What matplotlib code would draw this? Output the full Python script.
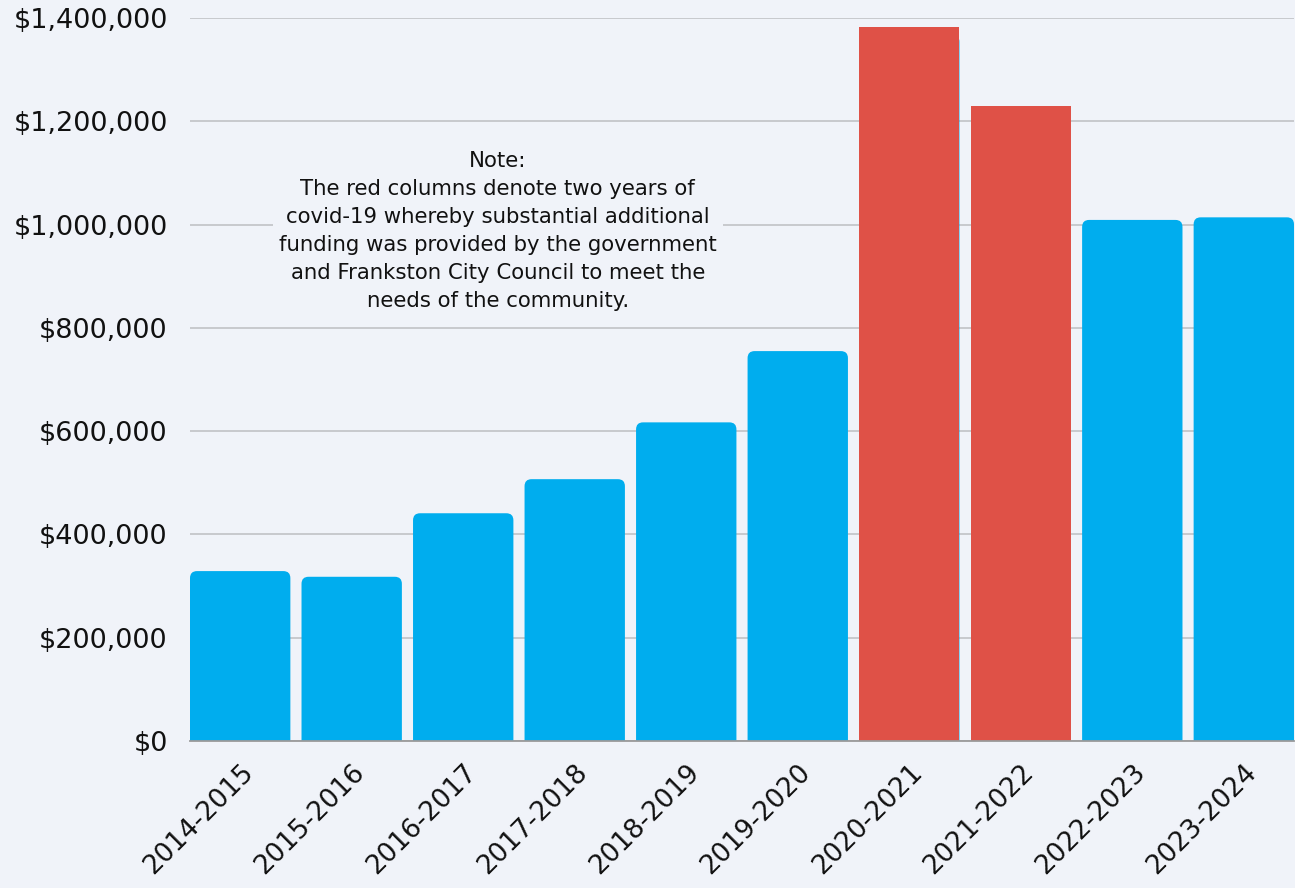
import matplotlib
matplotlib.use("Agg")
import matplotlib.pyplot as plt
import matplotlib.transforms as mtransforms
from matplotlib.patches import FancyBboxPatch
from matplotlib.ticker import FuncFormatter

years = ["2014-2015", "2015-2016", "2016-2017", "2017-2018", "2018-2019",
         "2019-2020", "2020-2021", "2021-2022", "2022-2023", "2023-2024"]
funding = [329000, 318000, 441000, 507000, 617000, 755000,
           1383000, 1229000, 1009000, 1014000]
covid = [False, False, False, False, False, False, True, True, False, False]

BG = "#f0f3f9"
BLUE = "#00adee"
RED = "#df5147"

plt.rcParams['font.family'] = ['DejaVu Sans']

W, H = 1295, 888
fig = plt.figure(figsize=(W / 100, H / 100), dpi=100, facecolor=BG)
left, right, top, bottom = 190, 1294, 18, 741
ax = fig.add_axes([left / W, 1 - bottom / H, (right - left) / W, (bottom - top) / H])
ax.set_facecolor(BG)

width = 0.9
ax.set_xlim(-0.45, len(years) - 1 + 0.45)
ax.set_ylim(0, 1400000)

px_x = (len(years) - 1 + 0.9) / (right - left)
px_y = 1400000 / (bottom - top)
r_px = 7

bars = ax.bar(range(len(years)), funding, width=width, color=BLUE, zorder=3)
for i, b in enumerate(bars):
    b.set_visible(False)
    x0, w, h = b.get_x(), b.get_width(), b.get_height()
    if covid[i]:
        under = FancyBboxPatch((x0 + 6 * px_x, -20 * px_y), w - 6 * px_x, h + 20 * px_y - 8 * px_y,
                               boxstyle=f"round,pad=0,rounding_size={r_px * px_x}",
                               mutation_aspect=px_y / px_x, fc=BLUE, ec="none", zorder=3)
        ax.add_patch(under)
        ax.bar(i, h, width=w, color=RED, zorder=4, bottom=0.0)
    else:
        p = FancyBboxPatch((x0, -20 * px_y), w, h + 20 * px_y,
                           boxstyle=f"round,pad=0,rounding_size={r_px * px_x}",
                           mutation_aspect=px_y / px_x, fc=BLUE, ec="none", zorder=3)
        ax.add_patch(p)

ax.set_yticks(range(0, 1400001, 200000))
ax.yaxis.set_major_formatter(FuncFormatter(lambda v, p: f"${int(v):,}"))
ax.grid(axis='y', color="#c4c6ca", linewidth=1.3, zorder=0)
ax.set_axisbelow(True)
for s in ["top", "right", "left"]:
    ax.spines[s].set_visible(False)
ax.spines["bottom"].set_color("#9a9a9a")
ax.spines["bottom"].set_linewidth(1.3)
ax.spines["bottom"].set_zorder(5)

ax.tick_params(axis='y', length=0, pad=16, labelsize=19.5, labelcolor="#111111")
ax.tick_params(axis='x', length=0, pad=13, labelsize=19, labelcolor="#111111")
ax.set_xticks(range(len(years)))
ax.set_xticklabels(years, rotation=45, ha='right', va='top', rotation_mode='anchor')
for lab in ax.get_xticklabels():
    lab.set_transform(lab.get_transform() + mtransforms.ScaledTranslation(0.0, 0.0, fig.dpi_scale_trans))

note = ("Note:\nThe red columns denote two years of\ncovid-19 whereby substantial additional\n"
        "funding was provided by the government\nand Frankston City Council to meet the\n"
        "needs of the community.")
ax.text(2.31, 988000, note, ha='center', va='center', fontsize=15.3, color="#111111",
        linespacing=1.5, zorder=6,
        bbox=dict(boxstyle="square,pad=0.3", fc=BG, ec="none"))

fig.savefig("out.png", dpi=100, facecolor=BG)
